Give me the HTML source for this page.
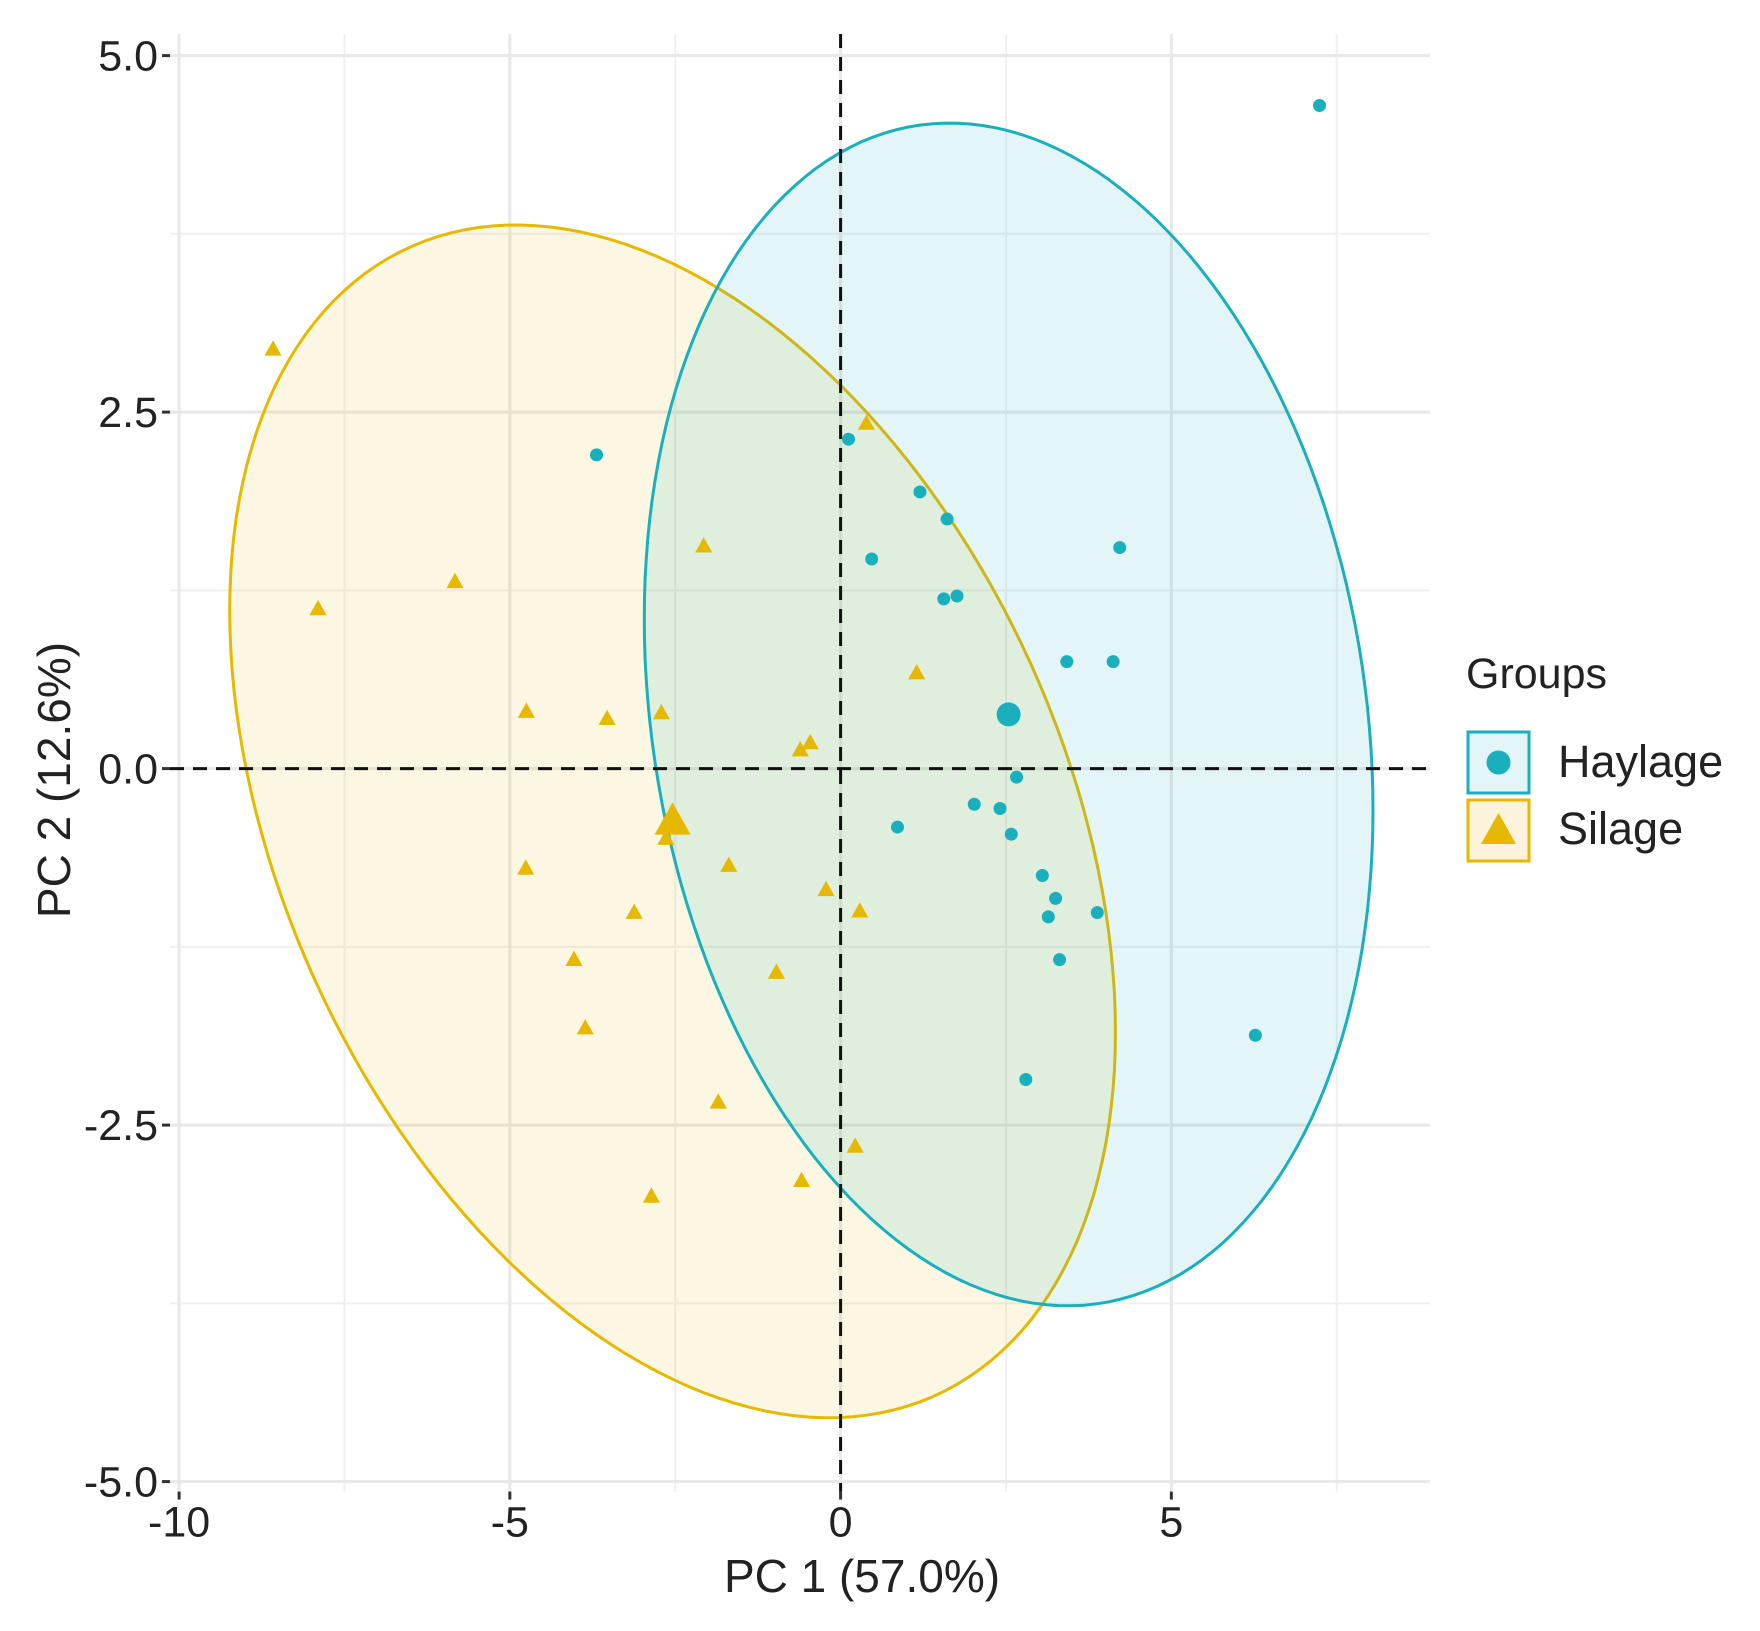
<!DOCTYPE html>
<html><head><meta charset="utf-8"><style>
html,body{margin:0;padding:0;background:#fff;}
svg{display:block;font-family:"Liberation Sans",sans-serif;}
</style></head><body>
<svg id="chart" width="1760" height="1631" viewBox="0 0 1760 1631">
<g id="grid"></g>
<g id="ellipses"></g>
<g id="reflines"></g>
<g id="points"></g>
<g id="axes"></g>
<text x="862" y="1592" font-size="46" text-anchor="middle" fill="#222">PC 1 (57.0%)</text>
<text transform="translate(70,780) rotate(-90)" font-size="46" text-anchor="middle" fill="#222">PC 2 (12.6%)</text>
<g>
<text x="1466" y="688" font-size="43" fill="#222">Groups</text>
<g>
<rect x="1468" y="732" width="61" height="61" fill="#e3f5f7" stroke="#1aafbc" stroke-width="3"/>
<circle cx="1498.5" cy="762.5" r="12" fill="#1aafbc"/>
<text x="1558" y="777" font-size="45" fill="#222">Haylage</text>
</g>
<g>
<rect x="1468" y="800" width="61" height="61" fill="#fbf3dc" stroke="#e7b800" stroke-width="3"/>
<polygon points="1498.5,813 1516,844 1481,844" fill="#e7b800"/>
<text x="1558" y="844" font-size="45" fill="#222">Silage</text>
</g>
</g>
</svg>
<script>
// data
const haylageX = [7.24,-3.69,0.12,1.20,1.61,0.47,4.22,1.56,1.76,3.42,4.12,2.66,2.02,2.41,2.58,0.86,3.05,3.25,3.14,3.88,3.31,6.27,2.80];
const haylageY = [4.65,2.20,2.31,1.94,1.75,1.47,1.55,1.19,1.21,0.75,0.75,-0.06,-0.25,-0.28,-0.46,-0.41,-0.75,-0.91,-1.04,-1.01,-1.34,-1.87,-2.18];
const silageX = [-8.58,-7.90,-5.83,-2.07,0.39,1.15,-4.75,-3.53,-2.71,-0.61,-0.46,-2.64,-4.76,-1.69,-0.22,0.29,-3.12,-4.03,-0.97,-3.86,-1.85,0.22,-0.59,-2.86];
const silageY = [2.94,1.12,1.31,1.56,2.42,0.67,0.40,0.35,0.39,0.13,0.18,-0.49,-0.70,-0.68,-0.85,-1.00,-1.01,-1.34,-1.43,-1.82,-2.34,-2.65,-2.89,-3.00];
const haylageCentroid = [2.54,0.38];
const silageCentroid = [-2.54,-0.37];
// ellipse covariance (data units): [sxx, sxy, syy]
const haylageEllipse = [30.34,-3.70,17.20];
const silageEllipse = [44.82,-9.9,17.49];
const xTicks = [-10,-5,0,5];
const xTickLabels = ["-10","-5","0","5"];
const yTicks = [-5,-2.5,0,2.5,5];
const yTickLabels = ["-5.0","-2.5","0.0","2.5","5.0"];
const xMinor = [-7.5,-2.5,2.5,7.5];
const yMinor = [-3.75,-1.25,1.25,3.75];

const NS="http://www.w3.org/2000/svg";
const sx = v => 840.6 + 66.15*v;
const sy = v => 768.6 - 142.6*v;
const PL=170, PR=1430, PT=34, PB=sy(-5)+10;
function mk(parent, tag, attrs){const e=document.createElementNS(NS,tag);for(const k in attrs)e.setAttribute(k,attrs[k]);parent.appendChild(e);return e;}
const grid=document.getElementById('grid');
mk(grid,'rect',{x:PL,y:PT,width:PR-PL,height:PB-PT,fill:'#fff'});
xMinor.forEach(v=>{const l=mk(grid,'line',{x1:sx(v),x2:sx(v),y1:PT,y2:PB,stroke:'#f0f0f0','stroke-width':2});

});
yMinor.forEach(v=>{const l=mk(grid,'line',{x1:PL,x2:PR,y1:sy(v),y2:sy(v),stroke:'#f0f0f0','stroke-width':2});

});
xTicks.forEach(v=>{const l=mk(grid,'line',{x1:sx(v),x2:sx(v),y1:PT,y2:PB,stroke:'#e8e8e8','stroke-width':3});

});
yTicks.forEach(v=>{const l=mk(grid,'line',{x1:PL,x2:PR,y1:sy(v),y2:sy(v),stroke:'#e8e8e8','stroke-width':3});

});

const eg=document.getElementById('ellipses');
function ellipse(c,cov,stroke,fill,name){
  const l11=Math.sqrt(cov[0]), l21=cov[1]/l11, l22=Math.sqrt(cov[2]-l21*l21);
  let d='';
  for(let i=0;i<=180;i++){const t=i/180*2*Math.PI;
    const x=c[0]+l11*Math.cos(t), y=c[1]+l21*Math.cos(t)+l22*Math.sin(t);
    d+=(i?'L':'M')+sx(x).toFixed(1)+','+sy(y).toFixed(1);}
  const p=mk(eg,'path',{d:d+'Z',fill:fill,stroke:stroke,'stroke-width':3});
  
  
}
ellipse(silageCentroid,silageEllipse,'#e7b800','rgba(231,184,0,0.11)','silage-ellipse');
ellipse(haylageCentroid,haylageEllipse,'#1aafbc','rgba(26,175,188,0.12)','haylage-ellipse');

const rl=document.getElementById('reflines');
const vl=mk(rl,'line',{x1:sx(0),x2:sx(0),y1:PT,y2:PB,stroke:'#111','stroke-width':3,'stroke-dasharray':'14,9'});


const hl=mk(rl,'line',{x1:PL,x2:PR,y1:sy(0),y2:sy(0),stroke:'#111','stroke-width':3,'stroke-dasharray':'14,9'});



const pg=document.getElementById('points');
function tri(x,y,s){return `${x},${y-s} ${x+s*0.95},${y+s*0.7} ${x-s*0.95},${y+s*0.7}`;}
silageX.forEach((v,i)=>{const p=mk(pg,'polygon',{points:tri(sx(v),sy(silageY[i]),9),fill:'#e7b800'});

});
haylageX.forEach((v,i)=>{const p=mk(pg,'circle',{cx:sx(v),cy:sy(haylageY[i]),r:6.5,fill:'#1aafbc'});

});
const sc=mk(pg,'polygon',{points:tri(sx(silageCentroid[0]),sy(silageCentroid[1]),19),fill:'#e7b800'});


const hc=mk(pg,'circle',{cx:sx(haylageCentroid[0]),cy:sy(haylageCentroid[1]),r:12,fill:'#1aafbc'});



const ax=document.getElementById('axes');
xTicks.forEach((v,i)=>{mk(ax,'line',{x1:sx(v),x2:sx(v),y1:PB,y2:PB+8,stroke:'#333','stroke-width':3});
const t=mk(ax,'text',{x:sx(v),y:PB+45,'font-size':43,'text-anchor':'middle',fill:'#222'});t.textContent=xTickLabels[i];

});
yTicks.forEach((v,i)=>{mk(ax,'line',{x1:PL-8,x2:PL,y1:sy(v),y2:sy(v),stroke:'#333','stroke-width':3});
const t=mk(ax,'text',{x:PL-12,y:sy(v)+15,'font-size':43,'text-anchor':'end',fill:'#222'});t.textContent=yTickLabels[i];

});
</script>
</body></html>
